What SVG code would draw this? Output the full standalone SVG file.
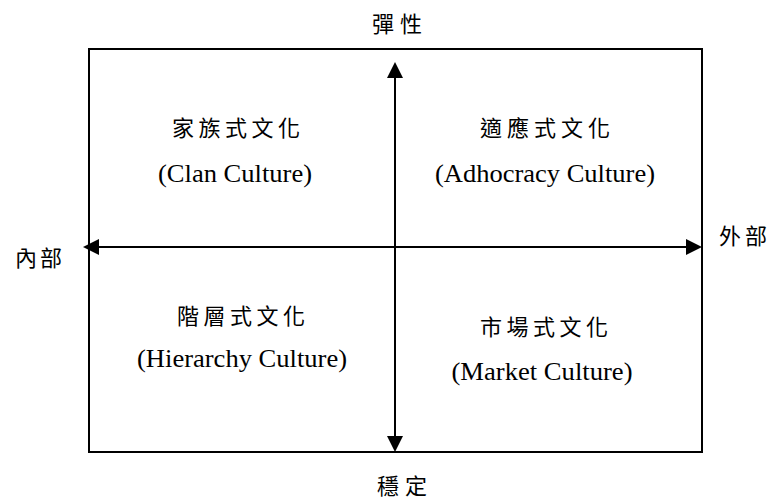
<svg xmlns="http://www.w3.org/2000/svg" width="771" height="499" viewBox="0 0 771 499">
<style>
.cjk{font-family:"Noto Sans CJK TC","Noto Sans CJK SC",sans-serif;font-size:22px;fill:#000}
.en{font-family:"Liberation Serif","Times New Roman",serif;font-size:25px;fill:#000;text-anchor:middle}
.ln{stroke:#000;stroke-width:2;fill:none}
</style>
<defs>
<marker id="ah" viewBox="0 0 16 16" markerWidth="16" markerHeight="16" refX="13" refY="8" orient="auto-start-reverse" markerUnits="userSpaceOnUse">
<path d="M0,0 L16,8 L0,16 z" fill="#000"/>
</marker>
</defs>
<rect id="frame" x="89" y="49" width="613" height="403" class="ln"/>
<g id="connectors">
<line class="ln" x1="395" y1="65" x2="395" y2="449" marker-start="url(#ah)" marker-end="url(#ah)"/>
<line class="ln" x1="86" y1="247" x2="699" y2="247" marker-start="url(#ah)" marker-end="url(#ah)"/>
</g>
<g id="axis-top"><text class="cjk" x="372 400" y="32">彈性</text></g>
<g id="axis-bottom"><text class="cjk" x="377 405" y="494">穩定</text></g>
<g id="axis-left"><text class="cjk" x="15 40" y="266">內部</text></g>
<g id="axis-right"><text class="cjk" x="719 745" y="244">外部</text></g>
<g id="clan">
<text class="cjk" x="172 198.5 225 251.5 278" y="136">家族式文化</text>
<text class="en" x="235" y="182" textLength="154" lengthAdjust="spacingAndGlyphs">(Clan Culture)</text>
</g>
<g id="adhocracy">
<text class="cjk" x="480 507 534 561 588" y="136">適應式文化</text>
<text class="en" x="545" y="182" textLength="220" lengthAdjust="spacingAndGlyphs">(Adhocracy Culture)</text>
</g>
<g id="hierarchy">
<text class="cjk" x="177 203.5 230 256.5 283" y="324">階層式文化</text>
<text class="en" x="242" y="367" textLength="210" lengthAdjust="spacingAndGlyphs">(Hierarchy Culture)</text>
</g>
<g id="market">
<text class="cjk" x="480 506.5 533 559.5 586" y="335">市場式文化</text>
<text class="en" x="542" y="380" textLength="181" lengthAdjust="spacingAndGlyphs">(Market Culture)</text>
</g>
</svg>
